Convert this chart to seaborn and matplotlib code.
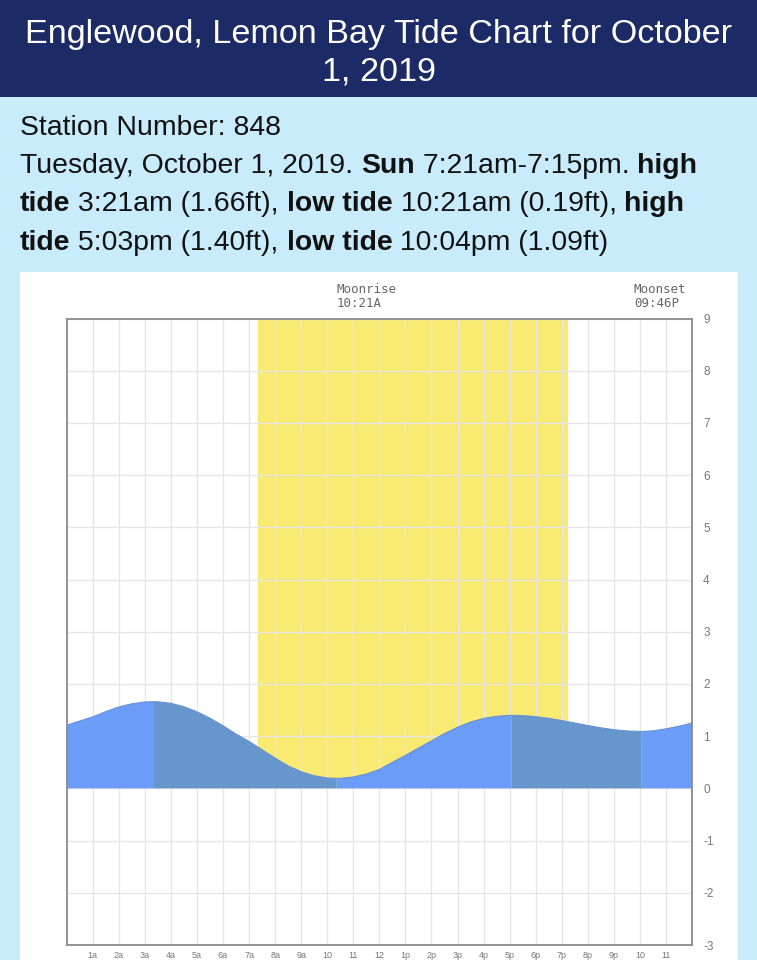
import matplotlib
matplotlib.use("Agg")
import matplotlib.pyplot as plt
from matplotlib.patches import Rectangle
import seaborn as sns
import pandas as pd

# tide curve (hours after midnight, feet)
hours = [0, 0.5, 1, 1.5, 2, 2.5, 3, 3.35, 3.5, 4, 4.5, 5, 5.5, 6, 6.5, 7, 7.5, 8,
         8.5, 9, 9.5, 10, 10.35, 10.5, 11, 11.5, 12, 12.5, 13, 13.5, 14, 14.5, 15,
         15.5, 16, 16.5, 17, 17.07, 17.5, 18, 18.5, 19, 19.5, 20, 20.5, 21, 21.5,
         22, 22.07, 22.5, 23, 23.5, 24]
tide_ft = [1.21, 1.29, 1.37, 1.47, 1.56, 1.62, 1.655, 1.66, 1.658, 1.63, 1.564, 1.467,
           1.344, 1.2, 1.04, 0.9, 0.74, 0.58, 0.43, 0.32, 0.242, 0.199, 0.19, 0.191,
           0.218, 0.275, 0.361, 0.5, 0.63, 0.77, 0.91, 1.05, 1.17, 1.27, 1.34, 1.38,
           1.399, 1.4, 1.394, 1.374, 1.342, 1.299, 1.252, 1.204, 1.16, 1.124, 1.1,
           1.09, 1.09, 1.1, 1.14, 1.19, 1.25]

# falling tide periods (high -> low) drawn darker
ebb_periods = [(3.35, 10.35), (17.07, 22.07)]

sun_rise, sun_set = 7.35, 19.25
moon_events = [(10.35, "Moonrise\n10:21A"), (21.77, "Moonset\n09:46P")]

hour_labels = ["1a", "2a", "3a", "4a", "5a", "6a", "7a", "8a", "9a", "10", "11", "12",
               "1p", "2p", "3p", "4p", "5p", "6p", "7p", "8p", "9p", "10", "11"]
y_ticks = list(range(-3, 10))

title_lines = ["Englewood, Lemon Bay Tide Chart for October", "1, 2019"]
info_lines = [
    [("Station Number: 848", "normal")],
    [("Tuesday, October 1, 2019. ", "normal"), ("Sun", "bold"),
     (" 7:21am-7:15pm. ", "normal"), ("high", "bold")],
    [("tide", "bold"), (" 3:21am (1.66ft), ", "normal"), ("low tide", "bold"),
     (" 10:21am (0.19ft), ", "normal"), ("high", "bold")],
    [("tide", "bold"), (" 5:03pm (1.40ft), ", "normal"), ("low tide", "bold"),
     (" 10:04pm (1.09ft)", "normal")],
]

W, H = 757, 960
sns.set_theme(style="white")
plt.rcParams["font.family"] = ["Liberation Sans", "DejaVu Sans"]


def fx(px):
    return px / W


def fy(py):
    return 1 - py / H


fig = plt.figure(figsize=(W / 100, H / 100), dpi=100, facecolor="#c9ecfc")

# header band and white chart panel, kept behind the axes
fig.patches.append(Rectangle((0, fy(97)), 1, fy(0) - fy(97), transform=fig.transFigure,
                             facecolor="#1c2a66", edgecolor="none", zorder=-10))
fig.patches.append(Rectangle((fx(20), 0), fx(737.5) - fx(20), fy(272), transform=fig.transFigure,
                             facecolor="white", edgecolor="none", zorder=-10))

fig.text(0.5, fy(35), title_lines[0], color="white", fontsize=24.6, ha="center", va="center")
fig.text(0.5, fy(72), title_lines[1], color="white", fontsize=24.6, ha="center", va="center")

renderer = fig.canvas.get_renderer()
line_y = [128, 166, 204, 243]
for runs, py in zip(info_lines, line_y):
    x = 20
    for txt, weight in runs:
        t = fig.text(fx(x), fy(py), txt, fontsize=20.4, fontweight=weight,
                     color="#111111", ha="left", va="center")
        x += t.get_window_extent(renderer).width

ax = fig.add_axes([fx(66.7), fy(945), fx(692) - fx(66.7), fy(318.5) - fy(945)])
ax.set_facecolor("white")
ax.set_xlim(0, 24)
ax.set_ylim(-3, 9)

# daylight band, only above the zero line
ax.axvspan(sun_rise, sun_set, ymin=3 / 12, ymax=1, color="#f9ea72", zorder=0.2, lw=0)

# grid
ax.set_xticks(range(1, 24))
ax.set_xticklabels(hour_labels)
ax.set_yticks(y_ticks)
ax.set_yticklabels([str(v) for v in y_ticks])
ax.set_axisbelow(True)
ax.grid(True, color="#e6e6e6", lw=1.0)

df = pd.DataFrame({"hour": hours, "tide": tide_ft})
ebb = df["hour"].apply(lambda h: any(a <= h <= b for a, b in ebb_periods))
flood = df["hour"].apply(lambda h: not any(a < h < b for a, b in ebb_periods))
ax.fill_between(df["hour"], 0, df["tide"], where=flood, color="#6a9cf8", lw=0, zorder=2)
ax.fill_between(df["hour"], 0, df["tide"], where=ebb, color="#6696cb", lw=0, zorder=2)
sns.lineplot(data=df, x="hour", y="tide", ax=ax, color="#6a90d8", lw=0.8, zorder=3)

ax.set_xlabel("")
ax.set_ylabel("")
ax.yaxis.tick_right()
ax.tick_params(axis="y", length=0, pad=8, labelsize=8.5, labelcolor="#777777")
ax.tick_params(axis="x", length=0, pad=4, labelsize=6.5, labelcolor="#777777")
for s in ax.spines.values():
    s.set_visible(True)
    s.set_color("#8a8a8a")
    s.set_linewidth(1.3)

for h, label in moon_events:
    ax.annotate(label, xy=(h, 9), xycoords="data", xytext=(0, 6), textcoords="offset points",
                ha="left", va="bottom", fontsize=9, family="DejaVu Sans Mono",
                color="#666666", linespacing=1.1, annotation_clip=False)

fig.savefig("out.png", dpi=100, facecolor=fig.get_facecolor())
